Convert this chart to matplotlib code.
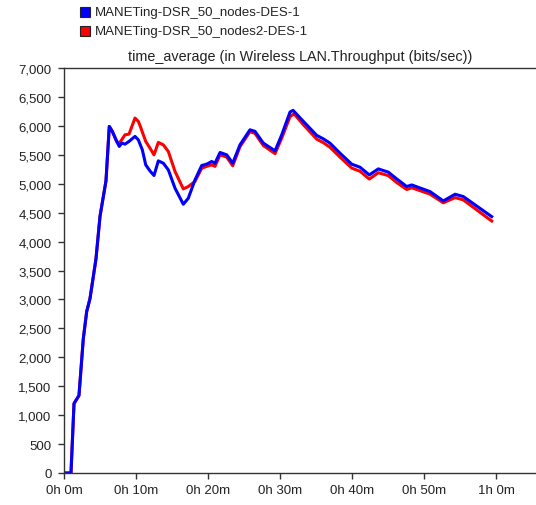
import matplotlib
matplotlib.use("Agg")
from matplotlib import pyplot as plt
from matplotlib.patches import Rectangle
from matplotlib.ticker import FuncFormatter, MultipleLocator

plt.rcParams['font.family'] = ['Liberation Sans', 'DejaVu Sans']

# simulation time in minutes, throughput in bits/sec
t_blue = [0, 0.97, 1.39, 2.08, 2.68, 3.15, 3.61, 4.44, 5.0, 5.83, 6.29, 6.71, 7.32,
          7.68, 8.01, 8.47, 9.03, 9.86, 10.32, 10.88, 11.35, 11.94, 12.5, 13.1,
          13.79, 14.49, 15.42, 16.57, 17.26, 18.19, 19.13, 19.82, 20.51, 20.97,
          21.67, 22.6, 23.43, 24.44, 25.83, 26.53, 27.68, 29.31, 30.24, 31.39,
          31.81, 33.24, 35.1, 36.01, 36.94, 38.33, 39.96, 41.11, 42.4, 43.65,
          45.04, 46.21, 47.6, 48.29, 50.83, 52.68, 54.31, 55.46, 59.4]
v_blue = [0, 0, 1200, 1340, 2320, 2790, 3015, 3700, 4436, 5050, 5990, 5904, 5731,
          5644, 5702, 5684, 5731, 5818, 5759, 5585, 5326, 5221, 5142, 5395,
          5355, 5239, 4922, 4645, 4749, 5066, 5315, 5338, 5384, 5355,
          5540, 5499, 5355, 5672, 5932, 5904, 5702, 5568, 5845, 6239,
          6268, 6078, 5835, 5776, 5701, 5528, 5338, 5285, 5152, 5256,
          5200, 5083, 4951, 4979, 4864, 4702, 4818, 4778, 4431]

t_red = [0, 0.97, 1.39, 2.08, 2.68, 3.15, 3.61, 4.44, 5.0, 5.83, 6.29, 6.71, 7.32,
         7.68, 8.01, 8.47, 9.03, 9.86, 10.32, 10.6, 11.35, 11.94, 12.5, 13.1,
         13.79, 14.49, 15.42, 16.57, 17.26, 18.19, 19.13, 19.82, 20.51, 20.97,
         21.67, 22.6, 23.43, 24.44, 25.83, 26.53, 27.68, 29.31, 30.24, 31.39,
         31.95, 33.24, 35.1, 36.01, 36.94, 38.33, 39.96, 41.11, 42.4, 43.65,
         45.04, 46.21, 47.6, 48.29, 50.83, 52.68, 54.31, 55.46, 59.4]
v_red = [0, 0, 1200, 1340, 2320, 2790, 3015, 3700, 4436, 5050, 5990, 5904, 5731,
         5700, 5759, 5845, 5857, 6135, 6078, 5990, 5731, 5615, 5499, 5714,
         5672, 5557, 5211, 4910, 4951, 5040, 5268, 5300, 5326, 5300,
         5500, 5460, 5310, 5640, 5900, 5870, 5660, 5520, 5790, 6160,
         6209, 6020, 5770, 5710, 5630, 5460, 5270, 5215, 5080, 5190,
         5140, 5020, 4900, 4930, 4820, 4670, 4760, 4720, 4355]

series_names = ['MANETing-DSR_50_nodes-DES-1', 'MANETing-DSR_50_nodes2-DES-1']
series_colors = ['#0000ff', '#ff0000']

fig = plt.figure(figsize=(5.36, 5.06), dpi=100)
ax = fig.add_axes([64 / 536, 32 / 506, 1 - 64 / 536, 405 / 506])

ax.plot(t_red, v_red, color=series_colors[1], lw=2.2, solid_joinstyle='round')
ax.plot(t_blue, v_blue, color=series_colors[0], lw=2.2, solid_joinstyle='round')

ax.set_xlim(0, 65.55)
ax.set_ylim(0, 7000)
ax.xaxis.set_major_locator(MultipleLocator(10))
ax.yaxis.set_major_locator(MultipleLocator(500))
ax.xaxis.set_major_formatter(FuncFormatter(lambda t, p: '%dh %dm' % (int(t // 60), int(round(t % 60)))))
ax.yaxis.set_major_formatter(FuncFormatter(lambda v, p: '{:,.0f}'.format(v)))

ax.spines['right'].set_visible(False)
for s in ['left', 'bottom', 'top']:
    ax.spines[s].set_color('#333333')
    ax.spines[s].set_linewidth(1.0)
ax.tick_params(direction='out', length=4, width=1, color='#333333',
               labelsize=9.5, labelcolor='#222222')
ax.tick_params(axis='x', pad=4)
ax.tick_params(axis='y', pad=5)

ax.set_title('time_average (in Wireless LAN.Throughput (bits/sec))',
             fontsize=10.4, color='#222222', pad=6)

# legend swatches at the top left
for i, (name, col) in enumerate(zip(series_names, series_colors)):
    y = 1 - (13 + 19 * i) / 506
    fig.patches.append(Rectangle((80 / 536, y - 5 / 506), 10 / 536, 10 / 506,
                                 transform=fig.transFigure, facecolor=col,
                                 edgecolor='#222222', lw=0.8))
    fig.text(95 / 536, y, name, fontsize=9.5, color='#222222', va='center')

fig.savefig('out.png', dpi=100)
